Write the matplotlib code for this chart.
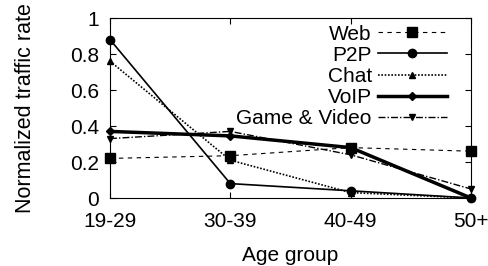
import numpy as np
from matplotlib import pyplot as plt

plt.rcParams['font.family'] = ['Liberation Sans', 'DejaVu Sans']

groups = ['19-29', '30-39', '40-49', '50+']
web = [0.22, 0.235, 0.28, 0.26]
p2p = [0.88, 0.08, 0.04, 0.0]
chat = [0.76, 0.21, 0.03, 0.0]
voip = [0.37, 0.345, 0.28, 0.0]
game = [0.33, 0.37, 0.24, 0.05]

x = np.arange(len(groups))

fig = plt.figure(figsize=(4.89, 2.66), dpi=100)
ax = fig.add_axes([110 / 489, 1 - 198 / 266, 361 / 489, 180 / 266])

ax.plot(x, web, color='black', lw=0.8, ls=(0, (4, 4)), marker='s', ms=6.5, label='Web', clip_on=False)
ax.plot(x, p2p, color='black', lw=1.2, ls='-', marker='o', ms=6, label='P2P', clip_on=False)
ax.plot(x, chat, color='black', lw=1.2, ls=(0, (1, 1)), marker='^', ms=4, label='Chat', clip_on=False)
ax.plot(x, voip, color='black', lw=2.5, ls='-', marker='D', ms=4, label='VoIP', clip_on=False)
ax.plot(x, game, color='black', lw=1.0, ls=(0, (5, 1.5, 1, 1.5)), marker='v', ms=5,
        label='Game & Video', clip_on=False)

ax.set_xlim(0, 3)
ax.set_ylim(0, 1)
ax.set_xticks(x)
ax.set_xticklabels(groups)
ax.set_yticks([0, 0.2, 0.4, 0.6, 0.8, 1])
ax.set_yticklabels(['0', '0.2', '0.4', '0.6', '0.8', '1'])
ax.tick_params(direction='in', top=True, right=True, labelsize=15, length=4)
ax.tick_params(axis='y', pad=8)
ax.tick_params(axis='x', pad=10)
ax.set_xlabel('Age group', fontsize=15, labelpad=11)
ax.set_ylabel('Normalized traffic rate', fontsize=15.5, labelpad=24)

# legend: labels on the left, sample line on the right, no frame
ax.legend(loc='upper right', bbox_to_anchor=(0.933, 0.963), frameon=False, markerfirst=False,
          fontsize=15, handlelength=3.3, labelspacing=0.1, borderaxespad=0, borderpad=0,
          handletextpad=0.3)

fig.savefig('out.png', dpi=100)
